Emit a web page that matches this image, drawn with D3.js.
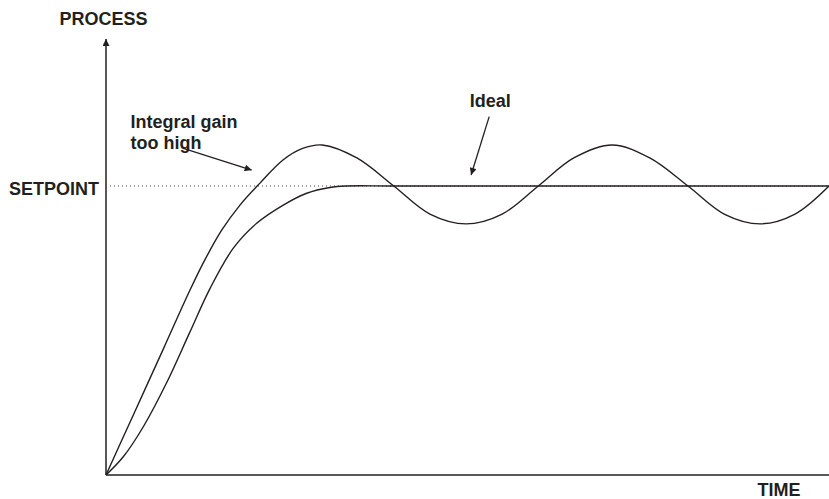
<!DOCTYPE html>
<html>
<head>
<meta charset="utf-8">
<script src="https://cdn.jsdelivr.net/npm/d3@7"></script>
<style>
  html, body { margin: 0; padding: 0; background: #fff; }
  svg { display: block; }
  text { font-family: "Liberation Sans", Arial, Helvetica, sans-serif; font-weight: bold; fill: #231f20; }
</style>
</head>
<body>
<svg id="chart" width="829" height="499"></svg>
<script>
// ---- Data (time 0..100, process value; setpoint = 1) ----
const setpoint = 1;
const integralTime  = [0, 4, 8, 11.62, 13.69, 16.0, 18.53, 21.3, 24.48, 27.2, 29.9, 34.7, 39.8, 44.8, 49.8, 54.8, 59.8, 64.7, 70.0, 75.2, 80.5, 85.5, 90.5, 95.3, 100];
const integralValue = [0, 0.22, 0.44, 0.64, 0.745, 0.847, 0.934, 1.01, 1.09, 1.13, 1.142, 1.097, 1.0, 0.903, 0.869, 0.903, 1.0, 1.097, 1.142, 1.097, 1.0, 0.903, 0.869, 0.903, 1.0];
const idealTime  = [0, 2.39, 5.16, 8.4, 11.52, 14.38, 17.61, 20.84, 24.52, 27.76, 30.98, 33.29, 40, 100];
const idealValue = [0, 0.063, 0.167, 0.32, 0.49, 0.645, 0.785, 0.871, 0.934, 0.975, 0.995, 1.0, 1.0, 1.0];

const axisLabels = { y: "PROCESS", x: "TIME", setpoint: "SETPOINT" };
const annotations = [
  { lines: ["Integral gain", "too high"], labelT: 3.4, labelV: 1.2, tail: [10.7, 1.13], tip: [20.15, 1.055] },
  { lines: ["Ideal"], labelT: 50.3, labelV: 1.275, tail: [53.0, 1.24], tip: [50.5, 1.038] }
];

// ---- Layout ----
const W = 829, H = 499;
const margin = { left: 106, right: 0, top: 38, bottom: 24 };
const svg = d3.select("#chart");
const x = d3.scaleLinear().domain([0, 100]).range([margin.left, W - margin.right]);
const y = d3.scaleLinear().domain([0, 1]).range([H - margin.bottom, 186]);
const ink = "#231f20";

// arrow marker
const defs = svg.append("defs");
defs.append("marker").attr("id", "ah").attr("viewBox", "0 0 10 10")
  .attr("refX", 10).attr("refY", 5).attr("markerWidth", 9).attr("markerHeight", 7)
  .attr("markerUnits", "userSpaceOnUse").attr("orient", "auto")
  .append("path").attr("d", "M0,0 L10,5 L0,10 Z").attr("fill", ink);

// setpoint dotted line
svg.append("line")
  .attr("x1", x(0) + 4).attr("x2", x(100))
  .attr("y1", y(setpoint)).attr("y2", y(setpoint))
  .attr("stroke", "#444").attr("stroke-width", 1.2).attr("stroke-dasharray", "1,3");

// axes
svg.append("line").attr("x1", x(0)).attr("x2", x(100)).attr("y1", y(0)).attr("y2", y(0))
  .attr("stroke", ink).attr("stroke-width", 1.6);
svg.append("line").attr("x1", x(0)).attr("x2", x(0)).attr("y1", y(0)).attr("y2", margin.top + 1)
  .attr("stroke", ink).attr("stroke-width", 1.5).attr("marker-end", "url(#ah)");

// curves
const line = d3.line().x(d => x(d[0])).y(d => y(d[1])).curve(d3.curveCatmullRom.alpha(0.5));
svg.append("path").datum(idealTime.map((t, i) => [t, idealValue[i]]))
  .attr("d", line).attr("fill", "none").attr("stroke", ink).attr("stroke-width", 1.4);
svg.append("path").datum(integralTime.map((t, i) => [t, integralValue[i]]))
  .attr("d", line).attr("fill", "none").attr("stroke", ink).attr("stroke-width", 1.4);

// axis labels
svg.append("text").attr("x", x(0) - 2.5).attr("y", 25).attr("text-anchor", "middle")
  .attr("font-size", 18).text(axisLabels.y);
svg.append("text").attr("x", 779).attr("y", 496).attr("text-anchor", "middle")
  .attr("font-size", 18).text(axisLabels.x);
svg.append("text").attr("x", x(0) - 7).attr("y", y(setpoint) + 8.5).attr("text-anchor", "end")
  .attr("font-size", 18).text(axisLabels.setpoint);

// annotations
annotations.forEach(a => {
  const t = svg.append("text").attr("x", x(a.labelT)).attr("y", y(a.labelV)).attr("font-size", 18);
  a.lines.forEach((l, i) => t.append("tspan").attr("x", x(a.labelT)).attr("dy", i === 0 ? 0 : 21).text(l));
  svg.append("line")
    .attr("x1", x(a.tail[0])).attr("y1", y(a.tail[1]))
    .attr("x2", x(a.tip[0])).attr("y2", y(a.tip[1]))
    .attr("stroke", ink).attr("stroke-width", 1.3).attr("marker-end", "url(#ah)");
});
</script>
</body>
</html>
